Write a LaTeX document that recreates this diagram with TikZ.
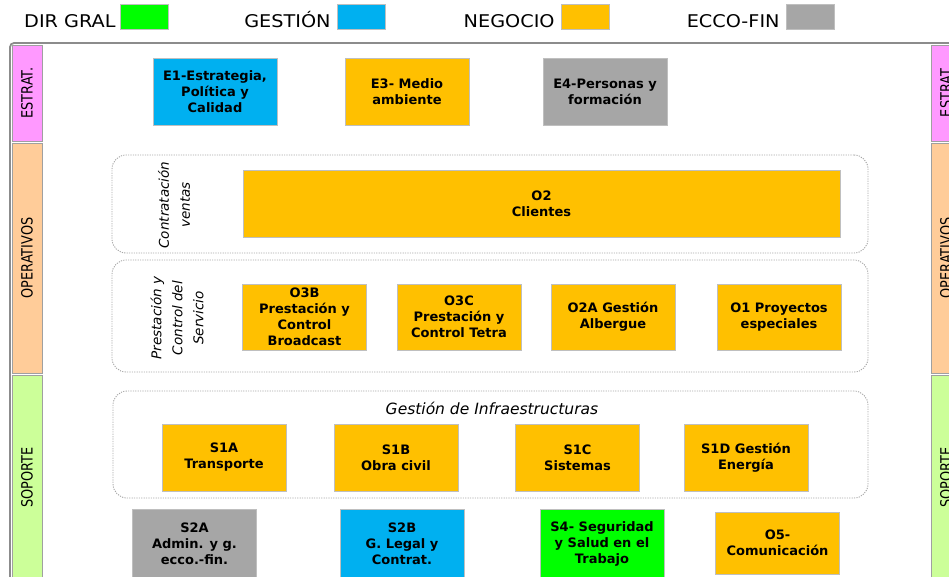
\documentclass[tikz,border=0pt]{standalone}
\usepackage{fontspec}
\setmainfont{DejaVu Sans}
\newfontfamily\legfont[FakeStretch=1.1]{DejaVu Sans}
\newfontfamily\barfont[FakeStretch=0.83]{DejaVu Sans}
\usetikzlibrary{positioning}
\definecolor{dirgral}{HTML}{00FF00}
\definecolor{gestion}{HTML}{00B0F0}
\definecolor{negocio}{HTML}{FFC000}
\definecolor{eccofin}{HTML}{A6A6A6}
\definecolor{estratcol}{HTML}{FF99FF}
\definecolor{operacol}{HTML}{FFCC99}
\definecolor{soportecol}{HTML}{CCFF99}
\definecolor{boxline}{HTML}{BFBFBF}
\definecolor{barline}{HTML}{A0A0A0}
\definecolor{grpline}{HTML}{A6A6A6}
\definecolor{frameline}{HTML}{8C8C8C}
\begin{document}
\begin{tikzpicture}[x=1pt,y=-1pt,
    proc/.style={draw=boxline, fill=#1, minimum width=124pt, minimum height=67pt,
      inner sep=0pt, align=center, font=\fontsize{13}{16}\selectfont\bfseries},
    grp/.style={draw=grpline, line width=0.9pt, dash pattern=on 1.2pt off 1.2pt,
      rounded corners=14pt, inner sep=0pt},
    legbox/.style={draw=boxline, fill=#1, minimum width=48pt, minimum height=25pt, inner sep=0pt},
    legtxt/.style={inner sep=0pt, text height=12.5pt, text depth=0pt, yshift=-4.5pt,
      font=\legfont\fontsize{17.5}{19}\selectfont},
    bar/.style={draw=barline, fill=#1, rotate=90, minimum height=30pt, inner sep=0pt,
      font=\barfont\fontsize{15.5}{17}\selectfont},
    lab/.style={inner sep=0pt, align=center, font=\fontsize{13.5}{21}\selectfont\itshape}]
  \useasboundingbox (0,0) rectangle (949,576);
  \clip (0,0) rectangle (949,576);
  % frame
  \draw[line width=1.8pt, draw=frameline, rounded corners=4pt] (10,43) rectangle (980,610);
  % side bars
  \node[bar=estratcol, minimum width=96pt] (estl) at (27,93) {ESTRAT.};
  \node[bar=operacol, minimum width=230pt] (opel) at (27,258) {OPERATIVOS};
  \node[bar=soportecol, minimum width=205pt] (sopl) at (27,477.5) {SOPORTE};
  \node[bar=estratcol, minimum width=96pt] (estr) at (946,93) {ESTRAT};
  \node[bar=operacol, minimum width=230pt] (oper) at (946,258) {OPERATIVOS};
  \node[bar=soportecol, minimum width=205pt] (sopr) at (946,477.5) {SOPORTE};
  % groups
  \node[grp, minimum width=756pt, minimum height=98pt] (contr) at (490,204) {};
  \node[grp, minimum width=756pt, minimum height=112pt] (prest) at (490,316) {};
  \node[grp, minimum width=755pt, minimum height=107pt] (infra) at (490.5,444.5) {};
  \node[lab, rotate=90] (lcontr) at (174,205) {Contratación\\ventas};
  \node[lab, rotate=90] (lprest) at (177,318) {Prestación y\\Control del\\Servicio};
  \node[lab, font=\fontsize{15.5}{18}\selectfont\itshape] (linfra) at (492,408) {Gestión de Infraestructuras};
  % estrategicos
  \node[proc=gestion] (e1) at (215,91.5) {E1-Estrategia,\\Política y\\Calidad};
  \node[proc=negocio] (e3) at (407,91.5) {E3- Medio\\ambiente};
  \node[proc=eccofin] (e4) at (605,91.5) {E4-Personas y\\formación};
  % operativos
  \node[proc=negocio, minimum width=597pt] (o2) at (541.5,203.5) {O2\\Clientes};
  \node[proc=negocio, minimum height=66pt] (o3b) at (304.5,317) {O3B\\Prestación y\\Control\\Broadcast};
  \node[proc=negocio, minimum height=66pt] (o3c) at (459,317) {O3C\\Prestación y\\Control Tetra};
  \node[proc=negocio, minimum height=66pt] (o2a) at (613,317) {O2A Gestión\\Albergue};
  \node[proc=negocio, minimum height=66pt] (o1) at (779,317) {O1 Proyectos\\especiales};
  % soporte
  \node[proc=negocio] (s1a) at (224,457.5) {S1A\\Transporte};
  \node[proc=negocio] (s1b) at (396,457.5) {S1B\\Obra civil};
  \node[proc=negocio] (s1c) at (577.5,457.5) {S1C\\Sistemas};
  \node[proc=negocio] (s1d) at (746,457.5) {S1D Gestión\\Energía};
  \node[proc=eccofin, minimum height=70pt] (s2a) at (194.5,544) {S2A\\Admin. y g.\\ecco.-fin.};
  \node[proc=gestion, minimum height=70pt] (s2b) at (402,544) {S2B\\G. Legal y\\Contrat.};
  \node[proc=dirgral, minimum height=70pt] (s4) at (602,544) {S4- Seguridad\\y Salud en el\\Trabajo};
  \node[proc=negocio, minimum height=62pt] (o5) at (777.5,543) {O5-\\Comunicación};
  % leyenda
  \node[legbox=dirgral] (lg1) at (144,16.5) {};
  \node[legbox=gestion] (lg2) at (361,16.5) {};
  \node[legbox=negocio] (lg3) at (585,16.5) {};
  \node[legbox=eccofin] (lg4) at (810,16.5) {};
  \node[legtxt, left=4pt of lg1] (lt1) {DIR GRAL};
  \node[legtxt, left=6pt of lg2] (lt2) {GESTIÓN};
  \node[legtxt, left=6pt of lg3] (lt3) {NEGOCIO};
  \node[legtxt, left=6pt of lg4] (lt4) {ECCO-FIN};
\end{tikzpicture}
\end{document}
